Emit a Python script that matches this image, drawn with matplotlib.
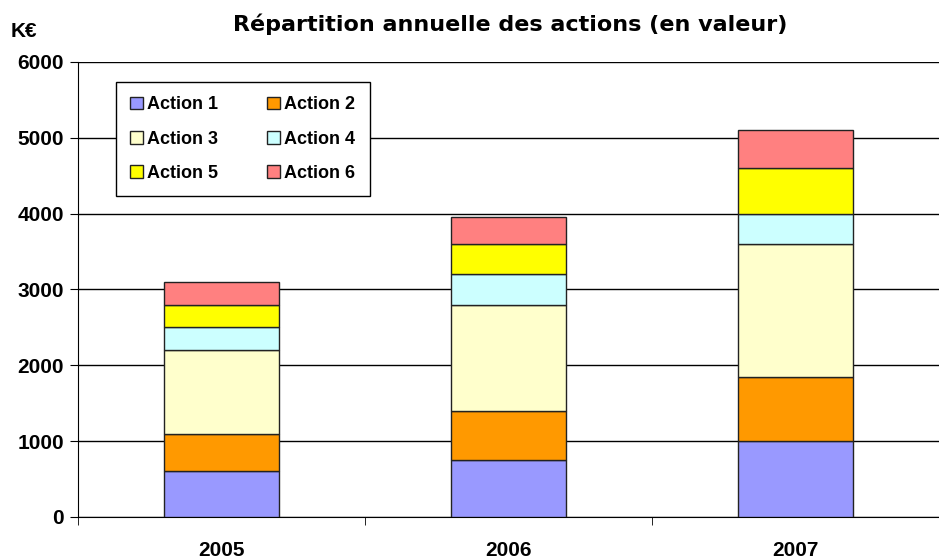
import numpy as np
import matplotlib.pyplot as plt

years = ["2005", "2006", "2007"]
series = ["Action 1", "Action 2", "Action 3", "Action 4", "Action 5", "Action 6"]
action1 = [600, 750, 1000]
action2 = [500, 650, 850]
action3 = [1100, 1400, 1750]
action4 = [300, 400, 400]
action5 = [300, 400, 600]
action6 = [300, 350, 500]
values = [action1, action2, action3, action4, action5, action6]
colors = ["#9999FF", "#FF9900", "#FFFFCC", "#CCFFFF", "#FFFF00", "#FF8080"]

plt.rcParams['font.family'] = ['Liberation Sans', 'DejaVu Sans']

fig = plt.figure(figsize=(9.39, 5.58), dpi=100)
ax = fig.add_axes([0.083, 0.0735, 0.917, 0.8155])

x = np.arange(len(years))
bottom = np.zeros(len(years))
handles = []
for name, vals, col in zip(series, values, colors):
    b = ax.bar(x, vals, 0.4, bottom=bottom, color=col, edgecolor="#222222",
               linewidth=1.0, label=name, zorder=3)
    handles.append(b)
    bottom += np.array(vals)

ax.set_xlim(-0.5, 2.5)
ax.set_ylim(0, 6000)
ax.set_yticks(np.arange(0, 6001, 1000))
ax.yaxis.grid(True, color="black", linewidth=1.0, zorder=0)
ax.set_axisbelow(True)

ax.set_xticks(x)
ax.set_xticklabels(years, fontsize=15, fontweight="bold")
ax.tick_params(axis="x", which="major", length=0, pad=17)
ax.set_xticks([-0.5, 0.5, 1.5, 2.5], minor=True)
ax.tick_params(axis="x", which="minor", length=6, color="black")
ax.tick_params(axis="y", length=6, labelsize=15, pad=4)
for lab in ax.get_yticklabels():
    lab.set_fontweight("bold")

for s in ["top", "right"]:
    ax.spines[s].set_visible(False)
ax.spines["left"].set_color("black")
ax.spines["bottom"].set_color("black")

order = [0, 2, 4, 1, 3, 5]
leg = ax.legend([handles[i] for i in order], [series[i] for i in order],
                ncol=2, loc="upper left", bbox_to_anchor=(0.044, 0.956),
                borderaxespad=0,
                prop={"weight": "bold", "size": 13}, fancybox=False,
                framealpha=1, edgecolor="black", handlelength=0.7,
                handleheight=0.7, handletextpad=0.25, columnspacing=2.7,
                labelspacing=0.95, borderpad=0.8)
leg.get_frame().set_linewidth(1.0)
leg.set_zorder(5)

fig.text(0.543, 0.957, "Répartition annuelle des actions (en valeur)",
         ha="center", va="center", fontsize=16, fontweight="bold",
         family=["DejaVu Sans"])
fig.text(0.011, 0.944, "K€", ha="left", va="center", fontsize=15,
         fontweight="bold")

fig.savefig("out.png", dpi=100)
